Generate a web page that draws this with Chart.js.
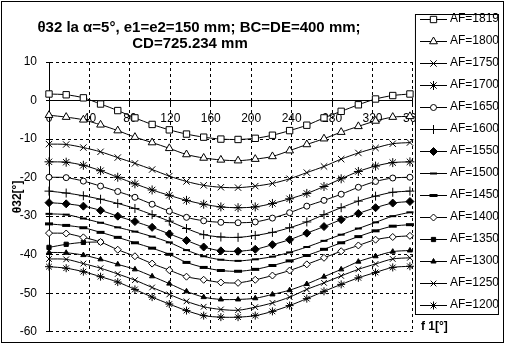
<!DOCTYPE html>
<html>
<head>
<meta charset="utf-8">
<script src="https://cdn.jsdelivr.net/npm/chart.js@4/dist/chart.umd.min.js"></script>
<style>
  html, body { margin: 0; padding: 0; background: #fff; }
  canvas { display: block; }
</style>
</head>
<body>
<canvas id="chart" width="509" height="348"></canvas>
<script>
// f1 angle [deg] of every sample
const f1Angles = [0, 17, 34, 51, 68, 85, 102, 119, 136, 153, 170, 187, 204, 221, 238, 255, 272, 289, 306, 323, 340, 357];

// theta32 [deg] for each AF value
const af1819 = [1.7, 1.5, 0.7, -0.9, -2.6, -4.5, -6.2, -7.6, -8.7, -9.5, -10.0, -10.1, -9.8, -9.0, -7.8, -6.4, -4.5, -2.8, -1.1, 0.4, 1.3, 1.7];
const af1800 = [-3.8, -4.3, -5.0, -6.3, -7.8, -9.5, -10.9, -12.4, -14.0, -14.9, -15.4, -15.6, -15.2, -14.5, -13.0, -11.4, -9.9, -8.2, -6.7, -5.3, -4.3, -4.1];
const af1750 = [-11.3, -11.4, -12.2, -13.3, -14.8, -16.3, -17.9, -19.6, -21.0, -22.0, -22.5, -22.6, -22.2, -21.5, -20.3, -18.7, -17.1, -15.2, -13.6, -12.3, -11.2, -10.9];
const af1700 = [-15.9, -16.0, -16.8, -18.2, -19.9, -21.6, -23.2, -24.6, -25.9, -26.9, -27.6, -27.8, -27.6, -26.7, -25.5, -24.1, -22.3, -20.3, -18.4, -17.0, -16.1, -15.9];
const af1650 = [-19.9, -20.0, -20.9, -22.2, -23.6, -25.1, -26.9, -28.7, -30.3, -31.2, -31.6, -31.7, -31.5, -30.5, -29.1, -27.4, -25.9, -24.3, -22.5, -21.0, -20.1, -19.9];
const af1600 = [-23.5, -24.0, -24.7, -25.6, -26.7, -28.0, -29.6, -31.3, -33.2, -34.8, -35.4, -35.5, -35.0, -34.2, -33.0, -31.5, -29.6, -27.8, -26.1, -24.8, -23.8, -23.5];
const af1550 = [-26.5, -26.8, -27.4, -28.5, -30.0, -31.4, -32.9, -34.6, -36.3, -38.0, -39.0, -39.1, -38.6, -37.4, -36.1, -34.4, -32.7, -30.9, -29.3, -27.8, -26.6, -26.2];
const af1500 = [-29.4, -29.6, -30.6, -31.7, -32.9, -34.0, -35.3, -36.8, -38.8, -40.4, -41.3, -41.6, -41.2, -40.5, -39.4, -38.0, -36.4, -34.8, -33.2, -31.6, -30.0, -29.0];
const af1450 = [-32.0, -32.4, -33.0, -34.2, -35.5, -36.9, -38.3, -39.9, -42.0, -43.3, -44.1, -44.3, -43.8, -42.8, -41.6, -40.2, -38.6, -36.9, -35.3, -33.8, -32.6, -32.2];
const af1400 = [-34.4, -34.5, -35.5, -36.7, -38.7, -40.4, -42.3, -44.0, -45.7, -46.5, -47.2, -47.3, -46.5, -45.4, -44.1, -42.5, -40.8, -39.1, -37.6, -36.1, -35.4, -35.1];
const af1350 = [-38.1, -37.3, -36.8, -36.7, null, null, null, null, null, null, null, null, null, null, null, null, null, null, null, null, null, null];
const af1300 = [-39.4, -39.5, -40.1, -41.2, -42.5, -43.8, -45.6, -47.5, -49.5, -51.0, -51.6, -51.6, -51.3, -50.3, -49.2, -47.6, -45.7, -43.8, -41.8, -40.4, -39.2, -38.9];
const af1250 = [-41.1, -41.2, -42.3, -43.5, -45.0, -46.6, -48.5, -50.3, -52.1, -53.5, -54.2, -54.4, -53.6, -52.5, -51.0, -49.0, -47.3, -45.5, -43.8, -42.4, -41.1, -40.8];
const af1200 = [-43.1, -43.5, -44.4, -45.7, -47.1, -49.0, -51.0, -52.8, -54.5, -55.8, -56.2, -56.2, -55.8, -54.7, -53.2, -51.4, -49.5, -47.7, -46.0, -44.6, -43.3, -43.0];

const seriesNames = ['AF=1819', 'AF=1800', 'AF=1750', 'AF=1700', 'AF=1650', 'AF=1600', 'AF=1550',
  'AF=1500', 'AF=1450', 'AF=1400', 'AF=1350', 'AF=1300', 'AF=1250', 'AF=1200'];
const seriesValues = [af1819, af1800, af1750, af1700, af1650, af1600, af1550,
  af1500, af1450, af1400, af1350, af1300, af1250, af1200];

const yTicks = { min: -60, max: 10, step: 10 };
const xTicks = { min: 0, max: 360, step: 40 };

const titleLines = ['θ32 la α=5°, e1=e2=150 mm; BC=DE=400 mm;', 'CD=725.234 mm'];
const yTitle = 'θ32[°]';
const xTitle = 'f 1[°]';

// marker look of each series (Excel style black & white markers)
const markers = [
  { style: 'rect', radius: 4.5, fill: '#fff', width: 1 },
  { style: 'triangle', radius: 4.5, fill: '#fff', width: 1 },
  { style: 'crossRot', radius: 4.5, fill: '#000', width: 1 },
  { style: 'star', radius: 4.5, fill: '#000', width: 1 },
  { style: 'circle', radius: 3, fill: '#fff', width: 1 },
  { style: 'cross', radius: 4.5, fill: '#000', width: 1 },
  { style: 'rectRot', radius: 4, fill: '#000', width: 1 },
  { style: 'line', radius: 3.5, fill: '#000', width: 2 },
  { style: 'line', radius: 4, fill: '#000', width: 3 },
  { style: 'rectRot', radius: 3.5, fill: '#fff', width: 1 },
  { style: 'rect', radius: 3, fill: '#000', width: 1 },
  { style: 'triangle', radius: 3, fill: '#000', width: 1 },
  { style: 'crossRot', radius: 4, fill: '#000', width: 1 },
  { style: 'star', radius: 4, fill: '#000', width: 1 }
];

const FONT = '"Liberation Sans", Arial, sans-serif';
Chart.defaults.font.family = FONT;
Chart.defaults.color = '#000';

// small line+marker picture used as legend symbol
function legendSample(m) {
  const c = document.createElement('canvas');
  c.width = 27;
  c.height = 12;
  const g = c.getContext('2d');
  g.strokeStyle = '#000';
  g.lineWidth = 1;
  g.beginPath();
  g.moveTo(0, 6.5);
  g.lineTo(27, 6.5);
  g.stroke();
  g.fillStyle = m.fill;
  g.lineWidth = m.width;
  if (Chart.helpers && Chart.helpers.drawPoint) {
    Chart.helpers.drawPoint(g, { pointStyle: m.style, radius: m.radius, borderWidth: m.width, rotation: 0 }, 13.5, 6.5);
  }
  return c;
}
const legendSamples = markers.map(legendSample);

const datasets = seriesValues.map((vals, i) => ({
  label: seriesNames[i],
  data: f1Angles.map((a, j) => ({ x: a, y: vals[j] })),
  xAxisID: 'x',
  yAxisID: 'y',
  borderColor: '#000',
  borderWidth: 1,
  tension: 0.3,
  clip: false,
  pointStyle: markers[i].style,
  pointRadius: markers[i].radius,
  pointBorderWidth: markers[i].width,
  pointBackgroundColor: markers[i].fill,
  pointBorderColor: '#000'
}));

const framePlugin = {
  id: 'frame',
  afterDraw(chart) {
    const ctx = chart.ctx;
    const lg = chart.legend;
    ctx.save();
    // legend box with border, then legend again on top of the axis labels
    ctx.fillStyle = '#fff';
    ctx.fillRect(lg.left + 2.5, lg.top + 11.5, 83, 300);
    ctx.strokeStyle = '#000';
    ctx.lineWidth = 1;
    ctx.strokeRect(lg.left + 2.5, lg.top + 11.5, 83, 300);
    ctx.fillStyle = '#000';
    lg.draw();
    ctx.restore();

    ctx.save();
    ctx.strokeStyle = '#000';
    ctx.lineWidth = 1;
    ctx.strokeRect(1.5, 1.5, 502, 341);

    ctx.fillStyle = '#000';
    ctx.font = 'bold 15px ' + FONT;
    ctx.textAlign = 'center';
    ctx.textBaseline = 'alphabetic';
    ctx.fillText(titleLines[0], 199, 32);
    ctx.fillText(titleLines[1], 190, 48);

    ctx.font = 'bold 12px ' + FONT;
    ctx.textAlign = 'left';
    ctx.fillText(xTitle, 421, 330);
    ctx.restore();
  }
};

new Chart(document.getElementById('chart'), {
  type: 'line',
  data: { datasets },
  options: {
    responsive: false,
    animation: false,
    devicePixelRatio: 1,
    layout: { padding: { left: 0, right: 0, top: 3, bottom: 16 } },
    plugins: {
      title: { display: false },
      tooltip: { enabled: false },
      legend: {
        position: 'right',
        align: 'start',
        labels: {
          usePointStyle: true,
          pointStyleWidth: 21,
          padding: 10,
          color: '#000',
          font: { size: 12 },
          generateLabels: chart => chart.data.datasets.map((ds, i) => ({
            text: ds.label,
            pointStyle: legendSamples[i],
            datasetIndex: i,
            fontColor: '#000',
            fillStyle: '#000',
            strokeStyle: '#000',
            lineWidth: 0,
            hidden: false
          }))
        }
      }
    },
    scales: {
      x: {
        type: 'linear',
        position: { y: 0 },
        min: xTicks.min,
        max: xTicks.max,
        ticks: { stepSize: xTicks.step, autoSkip: false, maxRotation: 0, color: '#000', font: { size: 12 }, padding: 8 },
        grid: { color: '#000', lineWidth: 1, tickLength: 3 },
        border: { display: true, color: '#000', width: 1, dash: [3, 3] }
      },
      y: {
        type: 'linear',
        position: 'left',
        min: yTicks.min,
        max: yTicks.max,
        ticks: { stepSize: yTicks.step, color: '#000', font: { size: 12 }, padding: 9 },
        grid: { color: '#000', lineWidth: 1, tickLength: 3 },
        border: { display: true, color: '#000', width: 1, dash: [3, 3] },
        title: { display: true, text: yTitle, color: '#000', font: { size: 12, weight: 'bold' }, padding: { top: 10, bottom: 0 } },
        afterFit: s => { s.width = 49; }
      },
      top: {
        type: 'linear',
        axis: 'x',
        position: 'top',
        min: 0,
        max: 1,
        grid: { display: false, drawTicks: false },
        ticks: { display: false },
        border: { display: false },
        afterFit: s => { s.height = 59; }
      }
    }
  },
  plugins: [framePlugin]
});
</script>
</body>
</html>
